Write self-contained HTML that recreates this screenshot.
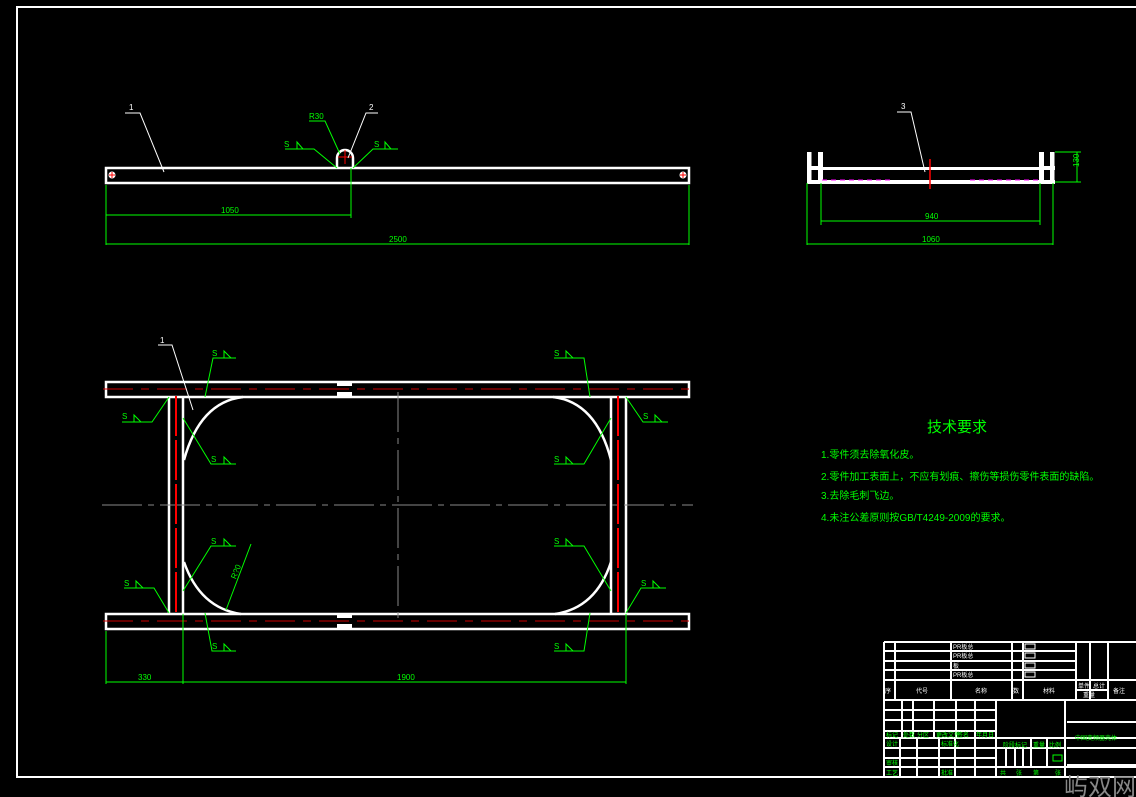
<!DOCTYPE html>
<html><head><meta charset="utf-8"><style>
html,body{margin:0;padding:0;background:#000;}
svg{display:block;}
text{font-family:"Liberation Sans","Noto Sans CJK SC",sans-serif;}
</style></head><body>
<svg width="1136" height="797" viewBox="0 0 1136 797" xmlns="http://www.w3.org/2000/svg">
<rect width="1136" height="797" fill="#000"/>
<rect x="17" y="7" width="1122" height="770" fill="none" stroke="#fff" stroke-width="2"/>

<!-- ===== TOP VIEW ===== -->
<g stroke="#fff" stroke-width="2.5" fill="none">
<rect x="106" y="168" width="583" height="15"/>
<path d="M337 168 V158 A8 8 0 0 1 353 158 V168"/>
</g>
<g fill="#fff"><circle cx="112" cy="175" r="3.5"/><circle cx="683" cy="175" r="3.5"/></g>
<g stroke="#f00" stroke-width="1"><path d="M109 175h6M112 172v6M680 175h6M683 172v6M338 157h14M345 150v14"/></g>
<g stroke="#fff" stroke-width="1" fill="none">
<path d="M125 113h15l24 59"/><path d="M378 113h-12l-18 45"/>
</g>
<text x="129" y="110" fill="#fff" font-size="8">1</text>
<text x="369" y="110" fill="#fff" font-size="8">2</text>
<g stroke="#0f0" stroke-width="1" fill="none">
<path d="M309 121h16l15 33"/>
<path d="M285 149h29l23 19M297 149l0 -7l6 7"/>
<path d="M398 149h-25l-20 19M385 149l0 -7l6 7"/>
<path d="M106 185v60M689 185v60M351 168v50M106 215h245M106 244h583"/>
</g>
<g fill="#0f0" font-size="8">
<text x="309" y="119">R30</text><text x="284" y="147">S</text><text x="374" y="147">S</text>
<text x="221" y="213">1050</text><text x="389" y="242">2500</text>
</g>

<!-- ===== SIDE VIEW ===== -->
<g fill="#fff">
<rect x="807" y="152" width="4.5" height="32"/><rect x="818" y="152" width="5" height="32"/>
<rect x="807" y="166" width="16" height="4"/>
<rect x="1039" y="152" width="5" height="32"/><rect x="1050" y="152" width="4.5" height="32"/>
<rect x="1039" y="166" width="16" height="4"/>
<rect x="807" y="180" width="248" height="4"/>
<rect x="823" y="167" width="216" height="3"/>
</g>
<g stroke="#fff" stroke-width="1" fill="none"><path d="M897 112h14l14 60"/></g>
<text x="901" y="109" fill="#fff" font-size="8">3</text>
<path d="M930 159v30" stroke="#f00" stroke-width="1.5"/>
<g stroke="#f0f" stroke-width="1" stroke-dasharray="5,4"><path d="M822 180h70M970 180h70"/></g>
<g stroke="#0f0" stroke-width="1" fill="none">
<path d="M807 183v62M1053 183v62M821 183v42M1040 183v42M821 221h219M807 244h246M1055 152h26M1055 182h26M1077 152v30"/>
</g>
<g fill="#0f0" font-size="8">
<text x="925" y="219">940</text><text x="922" y="242">1060</text>
<text x="1073" y="173" transform="rotate(-90 1073 167)">130</text>
</g>

<!-- ===== PLAN VIEW ===== -->
<g stroke="#fff" stroke-width="2.5" fill="none">
<rect x="106" y="382" width="583" height="15"/>
<rect x="106" y="614" width="583" height="15"/>
<path d="M169 397V614M183 397V614M611 397V614M626 397V614"/>
<path d="M243 397 Q200 402 184 460M241 614 Q200 608 184 562M553 397 Q596 402 611 460M555 614 Q596 608 611 562"/>
</g>
<g fill="#fff"><rect x="337" y="382" width="15" height="4"/><rect x="337" y="392" width="15" height="5"/><rect x="337" y="614" width="15" height="4"/><rect x="337" y="624" width="15" height="5"/></g>
<g stroke="#888" stroke-width="1" stroke-dasharray="40,6,6,6" fill="none">
<path d="M102 505H693M398 392V618"/>
</g>
<g stroke="#c00" stroke-width="1" stroke-dasharray="30,8,8,8" fill="none"><path d="M103 389H693M103 621H693"/></g>
<g stroke="#f00" stroke-width="2" stroke-dasharray="40,4"><path d="M176 396V614M618 396V614"/></g>
<g stroke="#fff" stroke-width="1" fill="none"><path d="M158 345h14l21 65"/></g>
<text x="160" y="343" fill="#fff" font-size="8">1</text>
<g stroke="#0f0" stroke-width="1" fill="none">
<path d="M236 358h-23l-8 39M224 358v-7l7 7"/>
<path d="M122 422h30l17-25M134 422v-7l7 7"/>
<path d="M236 464h-25l-28-46M224 464v-7l7 7"/>
<path d="M236 546h-25l-28 45M224 546v-7l7 7"/>
<path d="M124 588h30l15 25M136 588v-7l7 7"/>
<path d="M236 651h-24l-7-38M224 651v-7l7 7"/>
<path d="M251 544l-25 66"/>
<path d="M554 358h30l6 39M566 358v-7l7 7"/>
<path d="M668 422h-25l-17-25M655 422v-7l7 7"/>
<path d="M554 464h30l27-46M566 464v-7l7 7"/>
<path d="M554 546h30l27 45M566 546v-7l7 7"/>
<path d="M666 588h-25l-15 25M653 588v-7l7 7"/>
<path d="M554 651h30l6-38M566 651v-7l7 7"/>
<path d="M106 631v53M183 614v70M626 614v70M106 682h520"/>
</g>
<g fill="#0f0" font-size="8">
<text x="212" y="356">S</text><text x="122" y="419">S</text><text x="211" y="462">S</text><text x="211" y="544">S</text><text x="124" y="586">S</text><text x="212" y="649">S</text>
<text x="554" y="356">S</text><text x="643" y="419">S</text><text x="554" y="462">S</text><text x="554" y="544">S</text><text x="641" y="586">S</text><text x="554" y="649">S</text>
<text x="232" y="582" transform="rotate(-68 232 578)">R?0</text>
<text x="138" y="680">330</text><text x="397" y="680">1900</text>
</g>

<!-- ===== TECH REQUIREMENTS ===== -->
<g fill="#0f0" font-family="'Liberation Sans','Noto Sans CJK SC',sans-serif">
<text x="927" y="432" font-size="15">技术要求</text>
<text x="821" y="458" font-size="10">1.零件须去除氧化皮。</text>
<text x="821" y="480" font-size="10">2.零件加工表面上，不应有划痕、擦伤等损伤零件表面的缺陷。</text>
<text x="821" y="499" font-size="10">3.去除毛刺飞边。</text>
<text x="821" y="521" font-size="10">4.未注公差原则按GB/T4249-2009的要求。</text>
</g>

<!-- ===== TITLE BLOCK ===== -->
<g stroke="#fff" stroke-width="2" fill="none">
<path d="M884 642H1136M884 651H1076M884 661H1076M884 670H1076M884 680H1136M884 700H1136M884 777H1136"/>
<path d="M884 642V777M895 642V700M951 642V700M1012 642V700M1023 642V700M1076 642V700M1090 642V700M1108 642V700"/>
<path d="M1076 690H1108M1090 680V690"/>
<path d="M884 710H996M884 720H996M884 731H996M884 738H1136M884 748H996M884 758H996M884 767H1136"/>
<path d="M996 700V777M1065 700V777M902 700V738M913 700V738M934 700V738M956 700V738M975 700V738M900 738V777M917 738V777M939 738V777M955 738V777M975 738V777"/>
<path d="M996 748H1065M1031 738V767M1047 738V767M1006 748V767M1015 748V767M1023 748V767M1067 722H1136M1067 748H1136M1067 765H1136"/>
</g>
<g fill="none" stroke="#fff" stroke-width="1"><rect x="1025" y="644" width="10" height="5"/><rect x="1025" y="653" width="10" height="5"/><rect x="1025" y="663" width="10" height="5"/><rect x="1025" y="672" width="10" height="5"/></g>
<g fill="#fff" font-size="6">
<text x="953" y="649">PR板总</text><text x="953" y="658">PR板总</text><text x="953" y="668">板</text><text x="953" y="677">PR板总</text>
<text x="885" y="693">序</text><text x="916" y="693">代号</text><text x="975" y="693">名称</text><text x="1013" y="693">数</text><text x="1043" y="693">材料</text><text x="1078" y="688">单件</text><text x="1093" y="688">总计</text><text x="1083" y="697">重量</text><text x="1113" y="693">备注</text>
</g>
<g fill="#0f0" font-size="6">
<text x="886" y="737">标记</text><text x="903" y="737">处数</text><text x="917" y="737">分区</text><text x="936" y="737">更改文件</text><text x="957" y="737">签名</text><text x="976" y="737">年月日</text>
<text x="886" y="746">设计</text><text x="941" y="746">标准化</text><text x="886" y="765">审核</text><text x="886" y="775">工艺</text><text x="941" y="775">批准</text>
<text x="1003" y="747">阶段标记</text><text x="1033" y="747">重量</text><text x="1049" y="747">比例</text>
<text x="1000" y="775">共</text><text x="1016" y="775">张</text><text x="1033" y="775">第</text><text x="1055" y="775">张</text>
<text x="1075" y="740">中国变频器壳体</text>
</g>
<rect x="1053" y="755" width="9" height="6" fill="none" stroke="#0f0" stroke-width="1"/>
<text x="1064" y="795" fill="#888" font-size="24" font-family="'Liberation Sans','Noto Sans CJK SC',sans-serif">屿双网</text>
</svg>
</body></html>
